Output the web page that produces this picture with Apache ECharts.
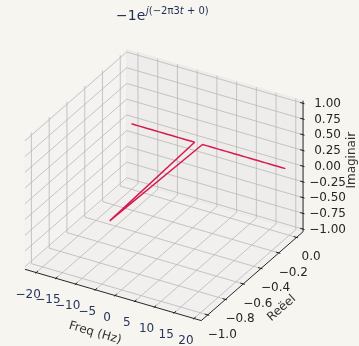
<!DOCTYPE html>
<html>
<head>
<meta charset="utf-8">
<script src="https://cdn.jsdelivr.net/npm/echarts@6/dist/echarts.min.js"></script>
<style>
  html, body { margin: 0; padding: 0; background: #f7f5f0; }
  #chart { width: 359px; height: 346px; }
</style>
</head>
<body>
<div id="chart"></div>
<script>
// Spectrum of -1·e^{j(-2π·3t)}: one component at -3 Hz
const freq = [-20, -19, -18, -17, -16, -15, -14, -13, -12, -11, -10, -9, -8, -7, -6, -5, -4, -3, -2, -1,
              0, 1, 2, 3, 4, 5, 6, 7, 8, 9, 10, 11, 12, 13, 14, 15, 16, 17, 18, 19];
const reeel = [0, 0, 0, 0, 0, 0, 0, 0, 0, 0, 0, 0, 0, 0, 0, 0, 0, -1, 0, 0,
               0, 0, 0, 0, 0, 0, 0, 0, 0, 0, 0, 0, 0, 0, 0, 0, 0, 0, 0, 0];
const imaginair = [0, 0, 0, 0, 0, 0, 0, 0, 0, 0, 0, 0, 0, 0, 0, 0, 0, 0, 0, 0,
                   0, 0, 0, 0, 0, 0, 0, 0, 0, 0, 0, 0, 0, 0, 0, 0, 0, 0, 0, 0];

const xTicks = [-20, -15, -10, -5, 0, 5, 10, 15, 20];
const xTickLabels = ['−20', '−15', '−10', '−5', '0', '5', '10', '15', '20'];
const yTicks = [-1.0, -0.8, -0.6, -0.4, -0.2, 0.0];
const yTickLabels = ['−1.0', '−0.8', '−0.6', '−0.4', '−0.2', '0.0'];
const zTicks = [-1, -0.75, -0.5, -0.25, 0, 0.25, 0.5, 0.75, 1];
const zTickLabels = ['−1.00', '−0.75', '−0.50', '−0.25', '0.00', '0.25', '0.50', '0.75', '1.00'];
const zLimits = [-1, 1];

const axisNames = ['Freq (Hz)', 'Reëel', 'Imaginair'];

// ---- view / projection -------------------------------------------------
const W = 359, H = 346;
const ELEV = 30, AZIM = -60;
const BOX = [4, 4, 2.95];
const CX = 164, CY = 185, KX = 50.9, KY = 51.3;

function withMargin(lo, hi, m) { const d = (hi - lo) * m; return [lo - d, hi + d]; }
function padded(r) { const d = (r[1] - r[0]) / 48; return [r[0] - d, r[1] + d]; }

const XP = padded(withMargin(Math.min(...freq), Math.max(...freq), 0.05));
const YP = padded(withMargin(Math.min(...reeel), Math.max(...reeel), 0.05));
const ZP = padded(zLimits);

const er = ELEV * Math.PI / 180, ar = AZIM * Math.PI / 180;
const U = [-Math.sin(ar), Math.cos(ar), 0];
const V = [-Math.sin(er) * Math.cos(ar), -Math.sin(er) * Math.sin(ar), Math.cos(er)];

function project(x, y, z) {
  const X = ((x - XP[0]) / (XP[1] - XP[0]) - 0.5) * BOX[0];
  const Y = ((y - YP[0]) / (YP[1] - YP[0]) - 0.5) * BOX[1];
  const Z = ((z - ZP[0]) / (ZP[1] - ZP[0]) - 0.5) * BOX[2];
  return [CX + KX * (U[0] * X + U[1] * Y + U[2] * Z),
          CY - KY * (V[0] * X + V[1] * Y + V[2] * Z)];
}
function flat(pts) { return pts.reduce((acc, p) => acc.concat(project(p[0], p[1], p[2])), []); }

// ---- scene pieces ------------------------------------------------------
const [x0, x1] = XP, [y0, y1] = YP, [z0, z1] = ZP;

const paneColors = ['rgba(242,242,242,0.5)', 'rgba(230,230,230,0.5)', 'rgba(236,236,236,0.5)'];
const panes = [
  flat([[x0, y0, z0], [x0, y1, z0], [x0, y1, z1], [x0, y0, z1]]),
  flat([[x0, y1, z0], [x1, y1, z0], [x1, y1, z1], [x0, y1, z1]]),
  flat([[x0, y0, z0], [x1, y0, z0], [x1, y1, z0], [x0, y1, z0]])
];

const gridSegs = [];
xTicks.forEach(t => {
  gridSegs.push(flat([[t, y0, z0], [t, y1, z0]]));
  gridSegs.push(flat([[t, y1, z0], [t, y1, z1]]));
});
yTicks.forEach(t => {
  gridSegs.push(flat([[x0, t, z0], [x1, t, z0]]));
  gridSegs.push(flat([[x0, t, z0], [x0, t, z1]]));
});
zTicks.forEach(t => {
  gridSegs.push(flat([[x0, y0, t], [x0, y1, t]]));
  gridSegs.push(flat([[x0, y1, t], [x1, y1, t]]));
});

// axis lines along the outer edges, plus tick marks
const dx = (x1 - x0) / 12, dy = (y1 - y0) / 12;
const axisSegs = [
  flat([[x0, y0, z0], [x1, y0, z0]]),
  flat([[x1, y0, z0], [x1, y1, z0]]),
  flat([[x1, y1, z0], [x1, y1, z1]])
];
xTicks.forEach(t => axisSegs.push(flat([[t, y0 - 0.1 * dy, z0], [t, y0 + 0.2 * dy, z0]])));
yTicks.forEach(t => axisSegs.push(flat([[x1 + 0.1 * dx, t, z0], [x1 - 0.2 * dx, t, z0]])));
zTicks.forEach(t => axisSegs.push(flat([[x1 + 0.1 * dx, y1, t], [x1 - 0.2 * dx, y1, t]])));

// tick labels: [sx, sy, axis, index]
const labelItems = [];
xTicks.forEach((t, i) => labelItems.push(project(t, y0, z0).concat([0, i])));
yTicks.forEach((t, i) => labelItems.push(project(x1, t, z0).concat([1, i])));
zTicks.forEach((t, i) => labelItems.push(project(x1, y1, t).concat([2, i])));
const labelText = [xTickLabels, yTickLabels, zTickLabels];
const labelShift = [[-8, 22], [14.5, 19.5], [24.5, 0.5]];
const labelColor = ['#26355f', '#262626', '#262626'];

// axis titles: anchored at the middle of each axis edge
const nameItems = [
  project((x0 + x1) / 2, y0, z0).concat([0]),
  project(x1, (y0 + y1) / 2, z0).concat([1]),
  project(x1, y1, (z0 + z1) / 2).concat([2])
];
const nameShift = [[-18, 38], [29.5, 32], [49, -6]];
const exVec = [project(x1, y0, z0), project(x0, y0, z0)];
const eyVec = [project(x1, y1, z0), project(x1, y0, z0)];
const nameRot = [
  -Math.atan2(exVec[0][1] - exVec[1][1], exVec[0][0] - exVec[1][0]),
  -Math.atan2(eyVec[0][1] - eyVec[1][1], eyVec[0][0] - eyVec[1][0]),
  Math.PI / 2
];

const lineData = freq.map((f, i) => project(f, reeel[i], imaginair[i]));

const FONT = 'DejaVu Sans';
const TITLE_COLOR = '#1f2d52';

function segRenderer(color, width) {
  return function (params, api) {
    const a = api.coord([api.value(0), api.value(1)]);
    const b = api.coord([api.value(2), api.value(3)]);
    return { type: 'line', shape: { x1: a[0], y1: a[1], x2: b[0], y2: b[1] },
             style: { stroke: color, lineWidth: width } };
  };
}

const chart = echarts.init(document.getElementById('chart'), null, { renderer: 'canvas' });
chart.setOption({
  backgroundColor: '#f7f5f0',
  animation: false,
  grid: { left: 0, right: 0, top: 0, bottom: 0 },
  xAxis: { type: 'value', min: 0, max: W, show: false },
  yAxis: { type: 'value', min: 0, max: H, inverse: true, show: false },
  graphic: [
    { type: 'text', left: 116, top: 9,
      style: { text: '−1e', fontFamily: FONT, fontSize: 14, fill: TITLE_COLOR } },
    { type: 'text', left: 146, top: 6,
      style: { text: '{i|j}(−2π3{i|t} + 0)', fontFamily: FONT, fontSize: 10, fill: TITLE_COLOR,
               rich: { i: { fontStyle: 'italic', fontFamily: FONT, fontSize: 10, fill: TITLE_COLOR } } } }
  ],
  series: [
    {
      type: 'custom', name: 'panes', z: 1, silent: true,
      data: panes,
      encode: { x: [0, 2, 4, 6], y: [1, 3, 5, 7] },
      renderItem: function (params, api) {
        const pts = [0, 1, 2, 3].map(k => api.coord([api.value(2 * k), api.value(2 * k + 1)]));
        const c = paneColors[params.dataIndex];
        return { type: 'polygon', shape: { points: pts }, style: { fill: c, stroke: c, lineWidth: 1 } };
      }
    },
    {
      type: 'custom', name: 'grid', z: 2, silent: true,
      data: gridSegs, encode: { x: [0, 2], y: [1, 3] },
      renderItem: segRenderer('#b8b8b8', 0.8)
    },
    {
      type: 'custom', name: 'axes', z: 3, silent: true,
      data: axisSegs, encode: { x: [0, 2], y: [1, 3] },
      renderItem: segRenderer('#111111', 0.9)
    },
    {
      type: 'custom', name: 'ticklabels', z: 4, silent: true,
      data: labelItems, encode: { x: 0, y: 1 },
      renderItem: function (params, api) {
        const p = api.coord([api.value(0), api.value(1)]);
        const ax = api.value(2), i = api.value(3);
        return { type: 'text', x: p[0] + labelShift[ax][0], y: p[1] + labelShift[ax][1],
                 style: { text: labelText[ax][i], fontFamily: FONT, fontSize: 12,
                          fill: labelColor[ax], align: 'center', verticalAlign: 'middle' } };
      }
    },
    {
      type: 'custom', name: 'axisnames', z: 4, silent: true,
      data: nameItems, encode: { x: 0, y: 1 },
      renderItem: function (params, api) {
        const p = api.coord([api.value(0), api.value(1)]);
        const ax = api.value(2);
        return { type: 'text', x: p[0] + nameShift[ax][0], y: p[1] + nameShift[ax][1],
                 rotation: nameRot[ax],
                 style: { text: axisNames[ax], fontFamily: FONT, fontSize: 12,
                          fill: '#333333', align: 'center', verticalAlign: 'middle' } };
      }
    },
    {
      type: 'line', name: 'spectrum', z: 5, silent: true,
      data: lineData, symbol: 'none', showSymbol: false,
      lineStyle: { color: '#d81b4f', width: 1.5 }
    }
  ]
});
</script>
</body>
</html>
